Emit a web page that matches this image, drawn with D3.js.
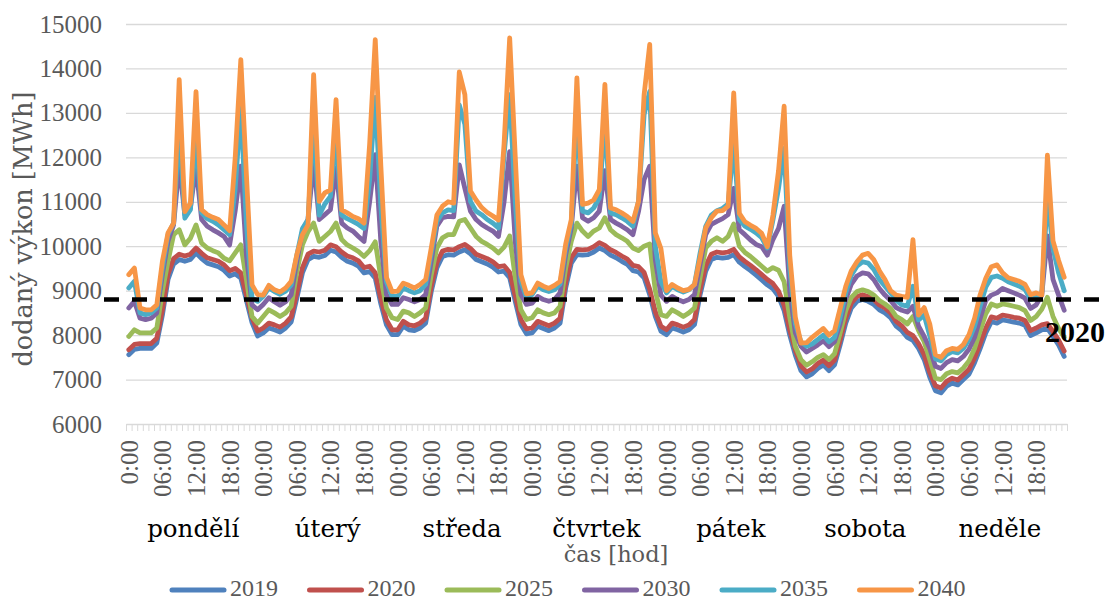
<!DOCTYPE html>
<html>
<head>
<meta charset="utf-8">
<script src="https://cdn.jsdelivr.net/npm/d3@7"></script>
<style>
  html, body { margin: 0; padding: 0; background: #ffffff; }
  svg { display: block; }
</style>
</head>
<body>
<svg id="chart" width="1106" height="602"></svg>
<script>
// ---- data -----------------------------------------------------------
const years = ["2019", "2020", "2025", "2030", "2035", "2040"];
const seriesColors = ["#4f81bd", "#c0504d", "#9bbb59", "#8064a2", "#4bacc6", "#f79646"];
const dayNames = ["pondělí", "úterý", "středa", "čtvrtek", "pátek", "sobota", "neděle"];
const tickLabels = [
  "0:00", "06:00", "12:00", "18:00",
  "00:00", "06:00", "12:00", "18:00",
  "00:00", "06:00", "12:00", "18:00",
  "00:00", "06:00", "12:00", "18:00",
  "00:00", "06:00", "12:00", "18:00",
  "00:00", "06:00", "12:00", "18:00",
  "00:00", "06:00", "12:00", "18:00"
];
const yTicks = [6000, 7000, 8000, 9000, 10000, 11000, 12000, 13000, 14000, 15000];
const referenceLevel = 8800;
const referenceLabel = "2020";

// hourly delivered power, one row per day (Mon..Sun)
const s2019 = [
  7560, 7680, 7700, 7700, 7700, 7820, 8450, 9250, 9600, 9700, 9660, 9700, 9850, 9720, 9620, 9580, 9540, 9460, 9330, 9380, 9280, 8780, 8280, 7980,
  8050, 8160, 8120, 8070, 8160, 8300, 8830, 9400, 9700, 9770, 9750, 9790, 9910, 9870, 9750, 9660, 9620, 9550, 9400, 9430, 9280, 8700, 8230, 8010,
  8010, 8200, 8120, 8100, 8160, 8270, 8980, 9510, 9770, 9810, 9800, 9870, 9920, 9830, 9700, 9650, 9600, 9530, 9420, 9440, 9290, 8760, 8240, 8030,
  8050, 8200, 8150, 8100, 8160, 8270, 9060, 9620, 9810, 9800, 9810, 9870, 9960, 9900, 9800, 9740, 9660, 9590, 9450, 9420, 9290, 8910, 8420, 8090,
  8010, 8160, 8120, 8070, 8120, 8240, 8910, 9440, 9700, 9750, 9730, 9750, 9810, 9640, 9540, 9450, 9350, 9240, 9130, 9040, 8870, 8550, 8000, 7550,
  7200, 7060, 7130, 7250, 7330, 7200, 7330, 7780, 8270, 8610, 8760, 8800, 8760, 8690, 8570, 8500, 8390, 8200, 8100, 7950, 7880, 7700, 7450, 7050,
  6750, 6700, 6850, 6920, 6880, 7000, 7120, 7380, 7700, 8050, 8300, 8270, 8340, 8320, 8290, 8270, 8220, 7990, 8050, 8120, 8150, 7970, 7780, 7520
];
const s2020 = [
  7670, 7790, 7810, 7810, 7810, 7930, 8570, 9370, 9720, 9820, 9780, 9820, 9960, 9840, 9740, 9700, 9660, 9580, 9450, 9500, 9400, 8900, 8390, 8090,
  8160, 8270, 8230, 8180, 8270, 8410, 8950, 9520, 9820, 9890, 9870, 9910, 10030, 9990, 9870, 9780, 9740, 9670, 9520, 9550, 9400, 8820, 8340, 8120,
  8120, 8310, 8230, 8210, 8270, 8380, 9100, 9630, 9890, 9930, 9920, 9990, 10040, 9950, 9820, 9770, 9720, 9650, 9540, 9560, 9410, 8880, 8350, 8140,
  8160, 8310, 8260, 8210, 8270, 8380, 9180, 9740, 9930, 9920, 9930, 9990, 10080, 10020, 9920, 9860, 9780, 9710, 9570, 9540, 9410, 9030, 8530, 8200,
  8120, 8270, 8230, 8180, 8230, 8350, 9030, 9560, 9820, 9870, 9850, 9870, 9930, 9760, 9660, 9570, 9470, 9360, 9250, 9160, 8990, 8670, 8110, 7660,
  7310, 7170, 7240, 7360, 7440, 7310, 7440, 7890, 8380, 8720, 8870, 8910, 8870, 8800, 8680, 8610, 8500, 8310, 8210, 8060, 7990, 7810, 7560, 7160,
  6860, 6810, 6960, 7030, 6990, 7110, 7230, 7490, 7810, 8160, 8410, 8380, 8450, 8430, 8400, 8380, 8330, 8100, 8160, 8230, 8260, 8080, 7890, 7640
];
const s2025 = [
  7970, 8120, 8050, 8050, 8050, 8160, 8990, 9660, 10260, 10370, 10030, 10180, 10480, 10070, 9960, 9900, 9850, 9730, 9670, 9850, 10030, 9250, 8420, 8270,
  8420, 8570, 8500, 8420, 8500, 8650, 9430, 10030, 10330, 10520, 10110, 10220, 10330, 10520, 10150, 10030, 9960, 9880, 9770, 9900, 10100, 9290, 8610, 8390,
  8350, 8540, 8500, 8420, 8500, 8610, 9360, 9960, 10190, 10260, 10260, 10560, 10600, 10410, 10220, 10110, 10040, 9960, 9850, 9980, 10230, 9290, 8570, 8350,
  8390, 8570, 8500, 8460, 8500, 8650, 9510, 10110, 10520, 10340, 10220, 10340, 10410, 10640, 10370, 10260, 10190, 10110, 9960, 9900, 10000, 10050, 9000, 8460,
  8420, 8570, 8500, 8420, 8500, 8610, 9290, 9960, 10110, 10190, 10110, 10220, 10500, 10000, 9860, 9770, 9660, 9550, 9440, 9520, 9460, 9200, 8400, 7750,
  7450, 7320, 7400, 7500, 7560, 7450, 7580, 8050, 8550, 8850, 8980, 9020, 8980, 8900, 8780, 8700, 8600, 8420, 8350, 8250, 8420, 8100, 7850, 7450,
  7030, 7000, 7130, 7180, 7150, 7260, 7420, 7700, 8100, 8480, 8700, 8650, 8700, 8680, 8650, 8620, 8550, 8330, 8420, 8580, 8850, 8420, 8150, 7950
];
const s2030 = [
  8610, 8760, 8380, 8350, 8380, 8500, 9360, 10110, 10480, 11850, 10710, 10860, 11800, 10600, 10450, 10370, 10300, 10220, 10030, 10800, 11800, 9800, 8680, 8570,
  8690, 8840, 8750, 8670, 8750, 8910, 9660, 10340, 10600, 11900, 10600, 10710, 10820, 11760, 10520, 10410, 10340, 10220, 10110, 11000, 12060, 10100, 8910, 8690,
  8690, 8840, 8800, 8750, 8800, 8910, 9660, 10450, 10640, 10670, 10660, 11830, 11300, 10790, 10600, 10490, 10410, 10340, 10220, 11000, 12130, 10100, 8910, 8690,
  8720, 8870, 8800, 8760, 8800, 8950, 9810, 10410, 11800, 10640, 10560, 10640, 10790, 11700, 10600, 10520, 10450, 10370, 10260, 10780, 11500, 11800, 9700, 8900,
  8760, 8870, 8800, 8750, 8800, 8910, 9590, 10260, 10490, 10560, 10620, 10710, 11300, 10370, 10260, 10140, 10040, 9990, 9800, 10150, 10400, 10900, 9000, 8050,
  7750, 7620, 7700, 7780, 7870, 7740, 7850, 8250, 8800, 9150, 9330, 9400, 9380, 9250, 9050, 8900, 8780, 8620, 8560, 8520, 8650, 8200, 7970, 7700,
  7300, 7250, 7380, 7450, 7420, 7520, 7680, 7950, 8380, 8780, 8900, 8950, 9050, 9000, 8950, 8900, 8830, 8600, 8680, 8900, 10230, 9250, 8900, 8560
];
const s2035 = [
  9060, 9210, 8500, 8460, 8500, 8610, 9510, 10260, 10520, 12700, 10630, 10820, 12500, 10750, 10620, 10560, 10480, 10370, 10260, 11300, 13100, 10500, 8830, 8760,
  8870, 9060, 8980, 8920, 8990, 9130, 9800, 10400, 10600, 12800, 10700, 10950, 11120, 12500, 10700, 10620, 10560, 10490, 10400, 11500, 13350, 10900, 9200, 8870,
  8870, 9060, 9000, 8950, 9000, 9140, 9850, 10560, 10750, 10820, 10800, 13180, 12740, 11010, 10790, 10710, 10600, 10520, 10410, 12060, 13410, 11000, 9210, 8840,
  8910, 9100, 9020, 8980, 9020, 9150, 9950, 10520, 13000, 10790, 10750, 10860, 11090, 12800, 10750, 10710, 10640, 10560, 10450, 11010, 12960, 13480, 10000, 9200,
  8950, 9100, 9020, 8970, 9020, 9140, 9850, 10450, 10700, 10800, 10850, 10950, 12300, 10600, 10450, 10380, 10300, 10190, 9960, 10590, 11300, 12200, 9500, 8250,
  7850, 7750, 7800, 7900, 8000, 7850, 7950, 8400, 8950, 9350, 9550, 9650, 9620, 9480, 9250, 9100, 8950, 8780, 8680, 8650, 9100, 8340, 8450, 7980,
  7470, 7420, 7560, 7630, 7600, 7700, 7900, 8200, 8650, 9080, 9300, 9330, 9280, 9200, 9150, 9100, 9030, 8800, 8850, 8950, 11100, 9950, 9400, 9000
];
const s2040 = [
  9360, 9510, 8610, 8570, 8570, 8680, 9660, 10300, 10520, 13750, 10780, 10970, 13480, 10820, 10710, 10650, 10600, 10480, 10350, 12000, 14200, 11600, 9130, 8910,
  8900, 9120, 9020, 8970, 9060, 9210, 9810, 10260, 10480, 13860, 11010, 11200, 11270, 13300, 10820, 10750, 10670, 10620, 10520, 12300, 14650, 11800, 9300, 8980,
  8990, 9170, 9120, 9060, 9140, 9250, 9960, 10700, 10900, 11000, 10970, 13920, 13410, 11240, 11040, 10870, 10760, 10680, 10590, 12300, 14690, 12000, 9360, 8930,
  8950, 9170, 9100, 9050, 9120, 9210, 10050, 10600, 13790, 10940, 10970, 11040, 11270, 13640, 10860, 10820, 10750, 10670, 10560, 11010, 13410, 14540, 10300, 9950,
  9000, 9140, 9060, 9000, 9030, 9140, 9740, 10410, 10640, 10790, 10800, 10900, 13450, 10740, 10550, 10470, 10400, 10290, 9990, 10700, 11700, 13150, 9800, 8400,
  7820, 7830, 7950, 8050, 8150, 8000, 8100, 8600, 9100, 9450, 9650, 9800, 9840, 9700, 9450, 9250, 9000, 8900, 8870, 8850, 10150, 8450, 8620, 8250,
  7560, 7500, 7650, 7700, 7680, 7790, 8010, 8380, 8910, 9280, 9540, 9580, 9400, 9290, 9250, 9210, 9140, 8910, 8950, 8900, 12050, 10120, 9680, 9300
];
const seriesValues = [s2019, s2020, s2025, s2030, s2035, s2040];

// ---- layout -----------------------------------------------------------
const plot = { left: 126, right: 1067, top: 24, bottom: 424 };
const hoursPerDay = 24;
const nHours = s2019.length;
const grey = "#595959";
const numFont = "'Liberation Serif', 'Times New Roman', serif";
const textFont = "'DejaVu Serif', serif";

const svg = d3.select("#chart");

const x = d3.scaleBand().domain(d3.range(nHours)).range([plot.left, plot.right]);
const xEdge = d3.scaleLinear().domain([0, nHours]).range([plot.left, plot.right]);
const y = d3.scaleLinear().domain([6000, 15000]).range([plot.bottom, plot.top]);
const xc = i => x(i) + x.bandwidth() / 2;

// horizontal gridlines
svg.append("g")
  .attr("transform", `translate(${plot.left},0)`)
  .call(d3.axisLeft(y).tickValues(yTicks.slice(1)).tickSize(-(plot.right - plot.left)).tickFormat(""))
  .call(g => g.select(".domain").remove())
  .call(g => g.selectAll("line").attr("stroke", "#d9d9d9").attr("stroke-width", 1.3));

// value axis labels
svg.append("g")
  .attr("transform", `translate(${plot.left},0)`)
  .call(d3.axisLeft(y).tickValues(yTicks).tickSize(0).tickPadding(24).tickFormat(d3.format("d")))
  .call(g => g.select(".domain").remove())
  .call(g => g.selectAll("text")
    .attr("fill", grey)
    .attr("font-family", numFont)
    .attr("font-size", 25));

// category axis: baseline plus a tick at every hour boundary
svg.append("g")
  .attr("transform", `translate(0,${plot.bottom})`)
  .call(d3.axisBottom(xEdge).tickValues(d3.range(nHours + 1)).tickSize(7).tickSizeOuter(0).tickFormat(""))
  .call(g => g.select(".domain").attr("stroke", "#d9d9d9").attr("stroke-width", 1.3))
  .call(g => g.selectAll(".tick line").attr("stroke", "#d9d9d9").attr("stroke-width", 1));

// time-of-day labels every six hours, rotated
svg.append("g")
  .attr("transform", `translate(0,${plot.bottom})`)
  .call(d3.axisBottom(x).tickValues(d3.range(0, nHours, 6)).tickSize(0).tickFormat(d => tickLabels[d / 6]))
  .call(g => g.select(".domain").remove())
  .call(g => g.selectAll("text")
    .attr("transform", "rotate(-90)")
    .attr("x", -16)
    .attr("y", 0)
    .attr("dy", "0.36em")
    .attr("text-anchor", "end")
    .attr("fill", grey)
    .attr("font-family", numFont)
    .attr("font-size", 25));

// weekday names under each day
svg.append("g")
  .selectAll("text")
  .data(dayNames)
  .join("text")
  .attr("x", (d, i) => xEdge(i * hoursPerDay + hoursPerDay / 2))
  .attr("y", 537)
  .attr("text-anchor", "middle")
  .attr("fill", "#000")
  .attr("font-family", textFont)
  .attr("font-size", 24.5)
  .text(d => d);

// axis titles
svg.append("text")
  .attr("transform", `translate(32,${(plot.top + plot.bottom) / 2 + 5}) rotate(-90)`)
  .attr("text-anchor", "middle")
  .attr("fill", grey)
  .attr("font-family", textFont)
  .attr("font-size", 25.5)
  .text("dodaný výkon [MWh]");

svg.append("text")
  .attr("x", 616)
  .attr("y", 562)
  .attr("text-anchor", "middle")
  .attr("fill", grey)
  .attr("font-family", textFont)
  .attr("font-size", 22.5)
  .text("čas [hod]");

// series lines
const line = d3.line().x((v, i) => xc(i)).y(v => y(v));
svg.append("g")
  .selectAll("path")
  .data(seriesValues)
  .join("path")
  .attr("d", line)
  .attr("fill", "none")
  .attr("stroke", (d, i) => seriesColors[i])
  .attr("stroke-width", 4.8)
  .attr("stroke-linejoin", "round")
  .attr("stroke-linecap", "round");

// reference level
svg.append("line")
  .attr("x1", 104)
  .attr("x2", 1106)
  .attr("y1", y(referenceLevel))
  .attr("y2", y(referenceLevel))
  .attr("stroke", "#000")
  .attr("stroke-width", 4.5)
  .attr("stroke-dasharray", "15 13");

svg.append("text")
  .attr("x", 1105)
  .attr("y", y(referenceLevel) + 42)
  .attr("text-anchor", "end")
  .attr("fill", "#000")
  .attr("font-family", numFont)
  .attr("font-weight", "bold")
  .attr("font-size", 30)
  .text(referenceLabel);

// legend
const legend = svg.append("g").attr("transform", "translate(170,590)");
const item = legend.selectAll("g")
  .data(years)
  .join("g")
  .attr("transform", (d, i) => `translate(${i * 137.5},0)`);
item.append("line")
  .attr("x1", 2).attr("x2", 54)
  .attr("y1", 0).attr("y2", 0)
  .attr("stroke", (d, i) => seriesColors[i])
  .attr("stroke-width", 5)
  .attr("stroke-linecap", "round");
item.append("text")
  .attr("x", 60)
  .attr("y", 6)
  .attr("fill", grey)
  .attr("font-family", numFont)
  .attr("font-size", 24)
  .text(d => d);
</script>
</body>
</html>
